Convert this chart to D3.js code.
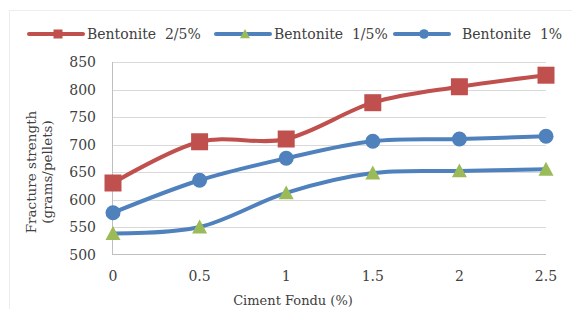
<!DOCTYPE html>
<html><head><meta charset="utf-8">
<script src="https://cdn.jsdelivr.net/npm/d3@7"></script>
<style>body{margin:0;background:#fff}svg{display:block}text{font-family:"DejaVu Serif",serif;fill:#404040}</style>
</head><body>
<script>
const xValues = [0, 0.5, 1, 1.5, 2, 2.5];
const xTickLabels = ["0", "0.5", "1", "1.5", "2", "2.5"];
const yTicks = [500, 550, 600, 650, 700, 750, 800, 850];
const seriesNames = ["Bentonite  2/5%", "Bentonite  1/5%", "Bentonite  1%"];
const bent25 = [630, 705, 710, 776, 805, 826];
const bent15 = [538, 550, 612, 648, 652, 655];
const bent1 = [576, 635, 675, 706, 710, 715];

const W = 572, H = 309;
const FS = "14px";
const svg = d3.select("body").append("svg").attr("width", W).attr("height", H);
svg.append("rect").attr("x", 9.5).attr("y", 10.5).attr("width", 570).attr("height", 310)
  .attr("fill", "#fff").attr("stroke", "#EDEDED");

const x = d3.scaleLinear().domain([0, 2.5]).range([113, 546]);
const y = d3.scaleLinear().domain([500, 850]).range([254.5, 62]);

// gridlines
svg.append("g").selectAll("line").data(yTicks.slice(1)).join("line")
  .attr("x1", 113).attr("x2", 546).attr("y1", d => Math.round(y(d)) + 0.5).attr("y2", d => Math.round(y(d)) + 0.5)
  .attr("stroke", "#D9D9D9").attr("stroke-width", 1);
// axes lines
svg.append("line").attr("x1", 112.5).attr("x2", 112.5).attr("y1", 62).attr("y2", 255).attr("stroke", "#BFBFBF");
svg.append("line").attr("x1", 112).attr("x2", 546).attr("y1", 254.5).attr("y2", 254.5).attr("stroke", "#BFBFBF");

// y tick labels
svg.append("g").selectAll("text").data(yTicks).join("text")
  .attr("x", 96).attr("y", d => y(d)).attr("dy", "0.36em").attr("text-anchor", "end")
  .style("font-size", FS).text(d => d);
// x tick labels
svg.append("g").selectAll("text").data(xValues).join("text")
  .attr("x", d => x(d)).attr("y", 276).attr("dy", "0.36em").attr("text-anchor", "middle")
  .style("font-size", FS).text((d, i) => xTickLabels[i]);

// titles
svg.append("text").attr("x", 293).attr("y", 300).attr("dy", "0.36em").attr("text-anchor", "middle")
  .style("font-size", "13px").text("Ciment Fondu (%)");
const yt = svg.append("text").attr("transform", "translate(39,172) rotate(-90)").attr("text-anchor", "middle").style("font-size", "13.5px");
yt.append("tspan").attr("x", 0).attr("dy", "-0.2em").text("Fracture strength");
yt.append("tspan").attr("x", 0).attr("dy", "1.15em").text("(grams/pellets)");

const line = d3.line().x((d, i) => x(xValues[i])).y(d => y(d)).curve(d3.curveCardinal.tension(0));

const series = [
  {data: bent25, color: "#C0504D", marker: "square", mcolor: "#C0504D"},
  {data: bent15, color: "#4F81BD", marker: "triangle", mcolor: "#9BBB59"},
  {data: bent1, color: "#4F81BD", marker: "circle", mcolor: "#4F81BD"}
];
function drawMarker(g, type, color, cx, cy, s) {
  if (type === "square") g.append("rect").attr("x", cx - s.sq / 2).attr("y", cy - s.sq / 2).attr("width", s.sq).attr("height", s.sq).attr("fill", color);
  else if (type === "circle") g.append("circle").attr("cx", cx).attr("cy", cy).attr("r", s.r).attr("fill", color);
  else g.append("path").attr("d", `M${cx},${cy - s.tr}L${cx + s.tr},${cy + s.tr * 0.85}L${cx - s.tr},${cy + s.tr * 0.85}Z`).attr("fill", color);
}
const big = {sq: 17, r: 7.5, tr: 7.5};
series.forEach(s => {
  svg.append("path").attr("d", line(s.data)).attr("fill", "none").attr("stroke", s.color).attr("stroke-width", 4).attr("stroke-linecap", "round");
});
series.forEach(s => {
  const g = svg.append("g");
  s.data.forEach((v, i) => drawMarker(g, s.marker, s.mcolor, x(xValues[i]), y(v), big));
});

// legend
const legX = [29, 216, 395];
const textX = [87, 274, 462];
const small = {sq: 9, r: 4.8, tr: 5};
series.forEach((s, i) => {
  const g = svg.append("g");
  g.append("line").attr("x1", legX[i]).attr("x2", legX[i] + 54).attr("y1", 34).attr("y2", 34).attr("stroke", s.color).attr("stroke-width", 4).attr("stroke-linecap", "round");
  drawMarker(g, s.marker, s.mcolor, legX[i] + 29, 34, small);
  g.append("text").attr("x", textX[i]).attr("y", 34).attr("dy", "0.36em").style("font-size", FS).style("white-space", "pre").attr("xml:space", "preserve").text(seriesNames[i]);
});
</script>
</body></html>
